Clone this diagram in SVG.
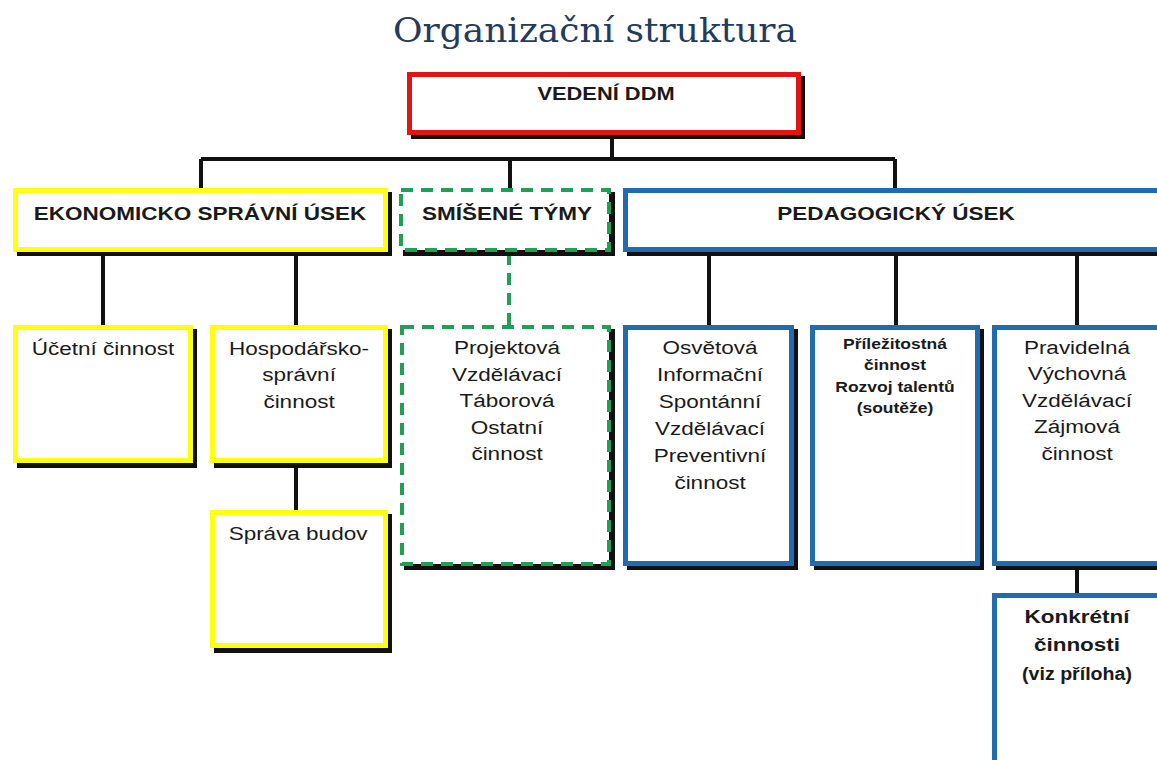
<svg xmlns="http://www.w3.org/2000/svg" width="1157" height="760" viewBox="0 0 1157 760">
<style>
.bg{fill:#ffffff}
.sh{fill:#111111}
.box{fill:#ffffff;stroke-width:5}
.red{stroke:#e31414}
.yel{stroke:#ffff10}
.blu{stroke:#1f6cb0}
.grn{stroke:#1fa055;stroke-width:4;stroke-dasharray:12 8}
.t{font-family:"Liberation Sans",Arial,sans-serif;fill:#1a1a1a;text-anchor:middle;font-size:18px}
.b{font-weight:bold}
.title{font-family:"DejaVu Serif","Liberation Serif",serif;fill:#263a5a;font-size:33px;text-anchor:middle}
.ln{stroke:#111111;stroke-width:4;fill:none}
.dl{stroke:#1fa055;stroke-width:4;fill:none;stroke-dasharray:12 8}
</style>
<rect class="bg" x="0" y="0" width="1157" height="760"/>
<text class="title" x="595" y="42" textLength="404" lengthAdjust="spacingAndGlyphs">Organizační struktura</text>

<g id="connectors">
<path class="ln" d="M612 137 V159 M201 159 H895 M201 159 V188 M510 159 V188 M895 159 V188"/>
<path class="ln" d="M103 252 V325 M296 252 V325 M296 463 V510"/>
<path class="dl" d="M509 253 V325"/>
<path class="ln" d="M709 252 V325 M896 252 V325 M1077 252 V325 M1077 566 V593"/>
</g>

<g id="vedeni">
<rect class="sh" x="411" y="76" width="394" height="63"/>
<rect class="box red" x="409.5" y="74.5" width="389" height="58"/>
<text class="t b" style="font-size:17.5px" transform="translate(606 100) scale(1.25 1)">VEDENÍ DDM</text>
</g>

<g id="ekonomicko">
<rect class="sh" x="17" y="192" width="375" height="64"/>
<rect class="box yel" x="15.5" y="190.5" width="370" height="59"/>
<text class="t b" transform="translate(200 220) scale(1.25 1)">EKONOMICKO SPRÁVNÍ ÚSEK</text>
</g>

<g id="smisene">
<rect class="sh" x="403" y="192" width="212" height="64"/>
<rect class="box grn" x="401" y="190" width="208" height="60"/>
<text class="t b" transform="translate(507 220) scale(1.25 1)">SMÍŠENÉ TÝMY</text>
</g>

<g id="pedagogicky">
<rect class="sh" x="627" y="192" width="560" height="64"/>
<rect class="box blu" x="625.5" y="190.5" width="560" height="59"/>
<text class="t b" transform="translate(896 220) scale(1.25 1)">PEDAGOGICKÝ ÚSEK</text>
</g>

<g id="ucetni">
<rect class="sh" x="17" y="329" width="180" height="139"/>
<rect class="box yel" x="15.5" y="327.5" width="175" height="133"/>
<text class="t" transform="translate(103 355) scale(1.25 1)">Účetní činnost</text>
</g>

<g id="hospodarsko">
<rect class="sh" x="214" y="329" width="178" height="139"/>
<rect class="box yel" x="212.5" y="327.5" width="173" height="133"/>
<text class="t" transform="translate(299 355) scale(1.25 1)"><tspan x="0" y="0">Hospodářsko-</tspan><tspan x="0" y="26.5">správní</tspan><tspan x="0" y="53">činnost</tspan></text>
</g>

<g id="sprava">
<rect class="sh" x="214" y="514" width="178" height="139"/>
<rect class="box yel" x="212.5" y="512.5" width="173" height="133"/>
<text class="t" transform="translate(298 540) scale(1.25 1)">Správa budov</text>
</g>

<g id="projektova">
<rect class="sh" x="404" y="329" width="211" height="241"/>
<rect class="box grn" x="402" y="327" width="207" height="237"/>
<text class="t" transform="translate(507 354) scale(1.25 1)"><tspan x="0" y="0">Projektová</tspan><tspan x="0" y="27">Vzdělávací</tspan><tspan x="0" y="53.5">Táborová</tspan><tspan x="0" y="80">Ostatní</tspan><tspan x="0" y="106.5">činnost</tspan></text>
</g>

<g id="osvetova">
<rect class="sh" x="627" y="329" width="171" height="241"/>
<rect class="box blu" x="625.5" y="327.5" width="166" height="236"/>
<text class="t" transform="translate(710 354) scale(1.25 1)"><tspan x="0" y="0">Osvětová</tspan><tspan x="0" y="27">Informační</tspan><tspan x="0" y="54">Spontánní</tspan><tspan x="0" y="81">Vzdělávací</tspan><tspan x="0" y="108">Preventivní</tspan><tspan x="0" y="135">činnost</tspan></text>
</g>

<g id="prilezitostna">
<rect class="sh" x="814" y="329" width="170" height="241"/>
<rect class="box blu" x="812.5" y="327.5" width="165" height="236"/>
<text class="t b" style="font-size:14px" transform="translate(895 349) scale(1.25 1)"><tspan x="0" y="0">Příležitostná</tspan><tspan x="0" y="21.3">činnost</tspan><tspan x="0" y="43.5">Rozvoj talentů</tspan><tspan x="0" y="64">(soutěže)</tspan></text>
</g>

<g id="pravidelna">
<rect class="sh" x="996" y="329" width="180" height="241"/>
<rect class="box blu" x="994.5" y="327.5" width="180" height="236"/>
<text class="t" transform="translate(1077 354) scale(1.25 1)"><tspan x="0" y="0">Pravidelná</tspan><tspan x="0" y="26.5">Výchovná</tspan><tspan x="0" y="53">Vzdělávací</tspan><tspan x="0" y="79.5">Zájmová</tspan><tspan x="0" y="106">činnost</tspan></text>
</g>

<g id="konkretni">
<rect class="sh" x="996" y="597" width="180" height="180"/>
<rect class="box blu" x="994.5" y="595.5" width="180" height="180"/>
<text class="t b" transform="translate(1077 623) scale(1.25 1)"><tspan x="0" y="0">Konkrétní</tspan><tspan x="0" y="28.5">činnosti</tspan><tspan x="0" y="57" textLength="88" lengthAdjust="spacingAndGlyphs">(viz příloha)</tspan></text>
</g>
</svg>
